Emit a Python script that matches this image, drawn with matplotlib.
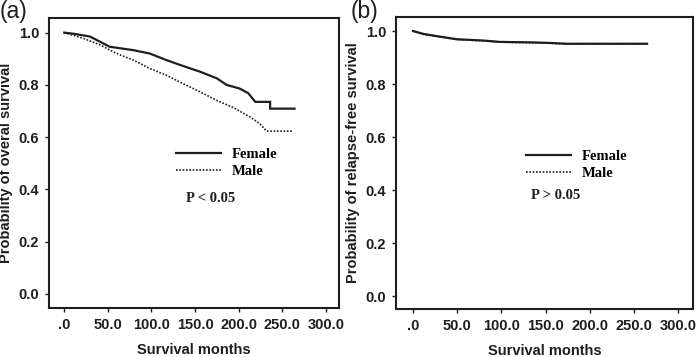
import matplotlib
matplotlib.use("Agg")
import matplotlib.pyplot as plt
from matplotlib.lines import Line2D

# Kaplan-Meier curves (months, probability)
os_female_t = [0, 12, 29.5, 52, 79, 98, 117, 133, 156, 175, 186, 201, 211, 219, 236, 236, 264]
os_female_p = [1.0, 0.995, 0.985, 0.946, 0.933, 0.92, 0.895, 0.876, 0.85, 0.825, 0.80, 0.786, 0.768, 0.735, 0.735, 0.709, 0.709]
os_male_t = [0, 10, 22, 41, 60, 79, 98, 117, 136, 156, 175, 194, 213, 224, 232, 262]
os_male_p = [1.0, 0.99, 0.978, 0.953, 0.92, 0.895, 0.863, 0.837, 0.805, 0.773, 0.74, 0.713, 0.677, 0.652, 0.623, 0.623]

rfs_female_t = [0, 12, 30, 50, 80, 98, 136, 155, 174, 265]
rfs_female_p = [1.0, 0.989, 0.979, 0.969, 0.964, 0.959, 0.957, 0.955, 0.952, 0.952]
rfs_male_t = [0, 11, 31, 49, 81, 99, 135, 156, 175, 264]
rfs_male_p = [1.0, 0.988, 0.978, 0.968, 0.963, 0.958, 0.956, 0.954, 0.951, 0.951]

x_ticks = [0, 50, 100, 150, 200, 250, 300]
x_labels = [".0", "50.0", "100.0", "150.0", "200.0", "250.0", "300.0"]
y_ticks = [0.0, 0.2, 0.4, 0.6, 0.8, 1.0]
y_labels = ["0.0", "0.2", "0.4", "0.6", "0.8", "1.0"]
groups = ["Female", "Male"]

INK = "#1e1e1e"
SANS = "Liberation Sans"
SERIF = "Liberation Serif"

fig = plt.figure(figsize=(6.99, 3.57), dpi=100)


def style_axes(ax, xlim, ylim, ylabel):
    ax.set_xlim(*xlim)
    ax.set_ylim(*ylim)
    ax.set_xticks(x_ticks)
    ax.set_xticklabels(x_labels, fontfamily=SANS, fontweight="bold", fontsize=10.5, color=INK)
    ax.set_yticks(y_ticks)
    ax.set_yticklabels(y_labels, fontfamily=SANS, fontweight="bold", fontsize=10.5, color=INK)
    ax.tick_params(direction="out", length=3, width=1, color=INK, pad=4)
    for s in ax.spines.values():
        s.set_linewidth(1.5)
        s.set_color(INK)
    ax.set_xlabel("Survival months", fontfamily=SANS, fontweight="bold", fontsize=10.5, color=INK, labelpad=8)
    ax.set_ylabel(ylabel, fontfamily=SANS, fontweight="bold", fontsize=10.5, color=INK, labelpad=4)


def draw(ax, ft, fp, mt, mp, leg_xy, ptext, pxy):
    ax.plot(ft, fp, color=INK, lw=1.6, solid_joinstyle="miter")
    ax.plot(mt, mp, color=INK, lw=1.2, linestyle=(0, (1, 1)))
    handles = [Line2D([], [], color=INK, lw=1.6),
               Line2D([], [], color=INK, lw=1.2, linestyle=(0, (1, 1)))]
    ax.legend(handles, groups, loc="center left", bbox_to_anchor=leg_xy, frameon=False,
              handlelength=3.1, handletextpad=0.7, labelspacing=0.25, borderpad=0, borderaxespad=0,
              prop={"family": SERIF, "weight": "bold", "size": 10.5})
    ax.text(pxy[0], pxy[1], ptext, transform=ax.transAxes, ha="center", va="center",
            fontfamily=SERIF, fontweight="bold", fontsize=10.5, color=INK)


ax1 = fig.add_axes([0.0701, 0.1373, 0.4149, 0.8123])
style_axes(ax1, (-17.5, 315), (-0.054, 1.056), "Probability of overal survival")
draw(ax1, os_female_t, os_female_p, os_male_t, os_male_p, (0.438, 0.50), "P < 0.05", (0.559, 0.379))

ax2 = fig.add_axes([0.5665, 0.1345, 0.4249, 0.8179])
style_axes(ax2, (-19.3, 317), (-0.049, 1.053), "Probability of relapse-free survival")
draw(ax2, rfs_female_t, rfs_female_p, rfs_male_t, rfs_male_p, (0.438, 0.493), "P > 0.05", (0.539, 0.390))

fig.text(0.0, 1.0, "(a)", ha="left", va="top", fontfamily=SANS, fontsize=16.5, color=INK)
fig.text(0.502, 1.0, "(b)", ha="left", va="top", fontfamily=SANS, fontsize=16.5, color=INK)

fig.savefig("out.png", dpi=100)
